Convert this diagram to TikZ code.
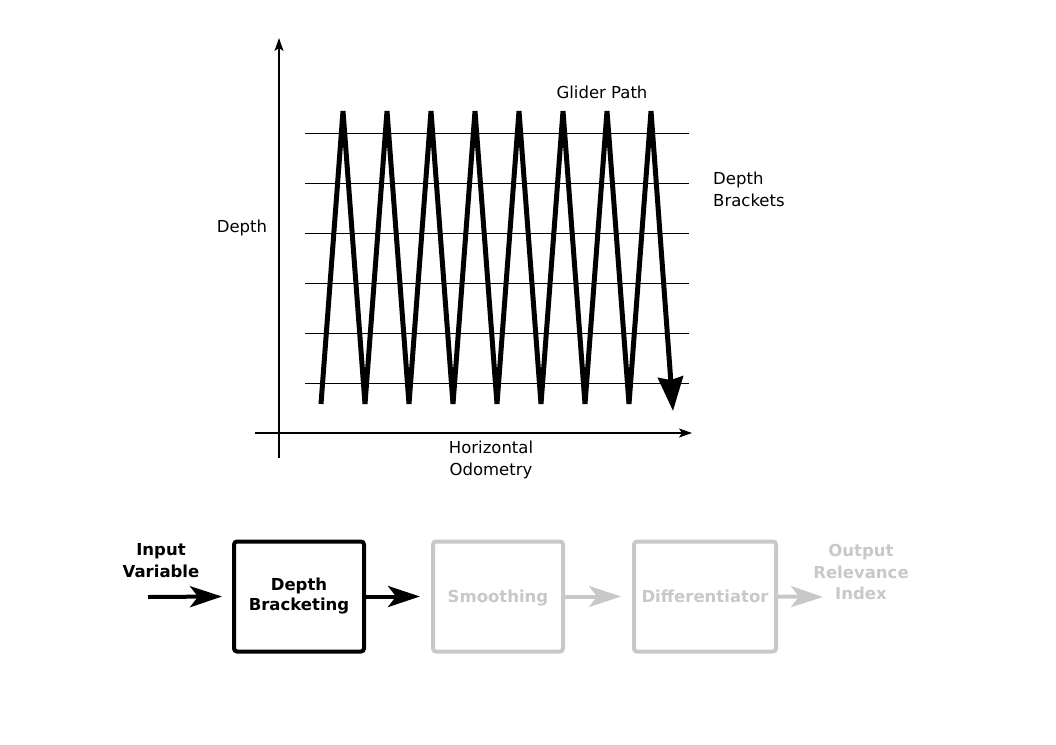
\documentclass[tikz,border=0pt]{standalone}
\usepackage{fontspec}
\setmainfont{DejaVu Sans}
\usetikzlibrary{arrows.meta}
\definecolor{lightgr}{RGB}{200,200,200}
\begin{document}
\begin{tikzpicture}[x=1pt,y=-1pt,
  every node/.style={font=\fontsize{16.5}{22}\selectfont, inner sep=0pt},
  lbl/.style={align=center},
  axis/.style={line width=1.5pt, -{Stealth[length=13pt,width=9pt,inset=3pt]}},
  bracket/.style={line width=1pt},
  glider/.style={line width=5pt, -{Stealth[length=34pt,width=25pt,inset=3pt]}},
  blockbox/.style={draw, line width=4pt, rounded corners=3pt, minimum height=110pt, align=center, font=\fontsize{16.5}{20}\selectfont\bfseries},
  flow/.style={line width=4pt, -{Stealth[length=32pt,width=21pt,inset=8pt]}},
  dim/.style={draw=lightgr, text=lightgr}
]
\useasboundingbox (0,0) rectangle (1056,744);

% axes
\coordinate (yb) at (279,458);
\coordinate (yt) at (279,38);
\coordinate (xl) at (255,433);
\coordinate (xr) at (692,433);
\draw[axis] (yb) -- (yt);
\draw[axis] (xl) -- (xr);

% depth brackets
\foreach \y in {133,183,233,283,333,383}
  \draw[bracket] (305,\y) -- (689,\y);

% glider path
\draw[glider] (321,404) -- (343,111) -- (365,404) -- (387,111) -- (409,404)
  -- (431,111) -- (453,404) -- (475,111) -- (497,404) -- (519,111)
  -- (541,404) -- (563,111) -- (585,404) -- (607,111) -- (629,404)
  -- (651,111) -- (673,411);

% labels
\node[lbl] (glabel) at (602,92) {Glider Path};
\node[lbl, align=left, anchor=west] (blabel) at (713,189) {Depth\\Brackets};
\node[lbl] (dlabel) at (242,228) {Depth};
\node[lbl] (hlabel) at (491,460) {Horizontal\\Odometry};

% block diagram
\coordinate (in) at (148,597);
\coordinate (outtip) at (823,597);
\node[lbl, font=\fontsize{16.5}{22}\selectfont\bfseries] (inlabel) at (161,561) {Input\\Variable};
\node[blockbox, minimum width=130pt] (b1) at (299,596.5) {Depth\\Bracketing};
\node[blockbox, dim, minimum width=130pt, text depth=0pt] (b2) at (498,596.5) {Smoothing};
\node[blockbox, dim, minimum width=142pt, text depth=0pt] (b3) at (705,596.5) {Differentiator};
\node[lbl, text=lightgr, font=\fontsize{16.5}{21.5}\selectfont\bfseries] (out) at (861,572) {Output\\Relevance\\Index};

\draw[flow] (in) -- ([xshift=-10pt]b1.west);
\draw[flow] (b1.east) -- ([xshift=-11pt]b2.west);
\draw[flow, draw=lightgr, fill=lightgr] (b2.east) -- ([xshift=-11pt]b3.west);
\draw[flow, draw=lightgr, fill=lightgr] (b3.east) -- (outtip);
\end{tikzpicture}
\end{document}
